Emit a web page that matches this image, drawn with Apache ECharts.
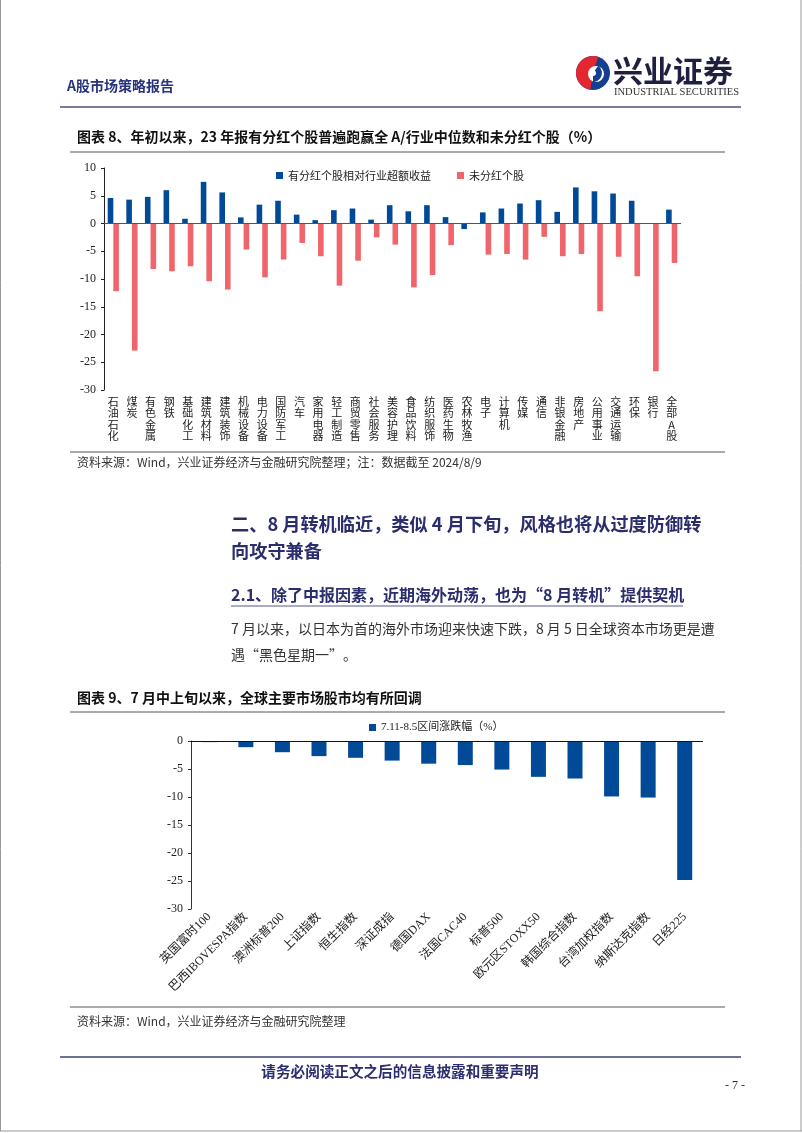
<!DOCTYPE html>
<html><head><meta charset="utf-8">
<script src="https://cdn.jsdelivr.net/npm/echarts@6/dist/echarts.min.js"></script>
<style>html,body{margin:0;padding:0;background:#fff}#c{width:802px;height:1133px}</style>
</head><body><div id="c"></div>
<script>
// ---- Data ----
var cats1 = ['石油石化','煤炭','有色金属','钢铁','基础化工','建筑材料','建筑装饰','机械设备','电力设备','国防军工','汽车','家用电器','轻工制造','商贸零售','社会服务','美容护理','食品饮料','纺织服饰','医药生物','农林牧渔','电子','计算机','传媒','通信','非银金融','房地产','公用事业','交通运输','环保','银行','全部A股'];
var divExcess = [4.6,4.3,4.8,6.0,0.85,7.5,5.6,1.1,3.4,4.1,1.6,0.6,2.4,2.7,0.7,3.3,2.2,3.3,1.15,-1.0,2.0,2.7,3.6,4.2,2.1,6.5,5.8,5.4,4.1,0,2.5];
var nonDiv = [-12.2,-22.9,-8.2,-8.6,-7.7,-10.4,-11.9,-4.7,-9.7,-6.5,-3.5,-5.9,-11.2,-6.7,-2.5,-3.8,-11.5,-9.3,-3.9,0.1,-5.6,-5.5,-6.5,-2.4,-5.9,-5.5,-15.8,-6.0,-9.5,-26.6,-7.1];
var seriesNames1 = ['有分红个股相对行业超额收益','未分红个股'];
var yTicks1 = {min:-30, max:10, interval:5};

var cats2 = ['英国富时100','巴西IBOVESPA指数','澳洲标普200','上证指数','恒生指数','深证成指','德国DAX','法国CAC40','标普500','欧元区STOXX50','韩国综合指数','台湾加权指数','纳斯达克指数','日经225'];
var vals2 = [-0.2,-1.1,-2.0,-2.7,-3.0,-3.5,-4.05,-4.3,-5.1,-6.4,-6.7,-9.9,-10.1,-24.8];
var seriesName2 = '7.11-8.5区间涨跌幅（%）';
var yTicks2 = {min:-30, max:0, interval:5};

// ---- Style ----
var SERIF = '"Liberation Serif","Noto Sans CJK SC",serif';
var CJK = '"Noto Sans CJK SC","Liberation Serif",sans-serif';
var BLUE = '#004a97', RED = '#f0646b', NAVY = '#2b2e6c';

function txt(x, y, s, size, opts) {
  opts = opts || {};
  return {type:'text', x:x, y:y, silent:true, style:{
    text:s, fontSize:size, fontFamily:opts.font || CJK, fontWeight:opts.bold?'bold':'normal',
    fill:opts.color || '#222', textAlign:opts.align || 'left', textVerticalAlign:'middle'}};
}
function hline(x1, x2, y, color, w) {
  return {type:'line', silent:true, shape:{x1:x1,y1:y,x2:x2,y2:y}, style:{stroke:color, lineWidth:w}};
}

var graphics = [
  // page frame
  {type:'line', silent:true, shape:{x1:0.5,y1:0,x2:0.5,y2:1131}, style:{stroke:'#999',lineWidth:1}},
  {type:'line', silent:true, shape:{x1:801,y1:0,x2:801,y2:1131}, style:{stroke:'#999',lineWidth:1}},
  hline(0, 802, 1131, '#999', 1),
  // header
  txt(67, 86, 'A股市场策略报告', 14, {bold:true, color:'#27337c'}),
  hline(60, 741, 107, '#4b4f7c', 1.5),
  // logo
  {type:'circle', silent:true, shape:{cx:593, cy:73, r:17}, style:{fill:'#123f8f'}},
  {type:'sector', silent:true, shape:{cx:593, cy:73, r:17, r0:0, startAngle:Math.PI*0.55, endAngle:Math.PI*1.6}, style:{fill:'#e3262f'}},
  {type:'circle', silent:true, shape:{cx:596, cy:74, r:8}, style:{fill:'#fff'}},
  {type:'sector', silent:true, shape:{cx:593, cy:73, r:9, r0:3, startAngle:-Math.PI*0.3, endAngle:Math.PI*0.5}, style:{fill:'#123f8f'}},
  txt(613, 71, '兴业证券', 30, {bold:true, color:'#1f1f40', font:'"Noto Sans CJK SC",serif'}),
  txt(614, 92, 'INDUSTRIAL SECURITIES', 10.5, {color:'#333', font:SERIF}),
  // chart 1 title & frame
  txt(77, 137, '图表 8、年初以来，23 年报有分红个股普遍跑赢全 A/行业中位数和未分红个股（%）', 14, {bold:true, color:'#111'}),
  hline(70, 725, 152, '#aaa', 2),
  hline(70, 725, 452, '#aaa', 2),
  txt(77, 462, '资料来源：Wind，兴业证券经济与金融研究院整理；注：数据截至 2024/8/9', 12, {color:'#333'}),
  // section text
  txt(231, 524, '二、8 月转机临近，类似 4 月下旬，风格也将从过度防御转', 18.2, {bold:true, color:NAVY}),
  txt(231, 551, '向攻守兼备', 18.2, {bold:true, color:NAVY}),
  txt(231, 595, '2.1、除了中报因素，近期海外动荡，也为“8 月转机”提供契机', 16, {bold:true, color:NAVY}),
  hline(231, 683, 606, '#555a88', 1.2),
  txt(231, 629, '7 月以来，以日本为首的海外市场迎来快速下跌，8 月 5 日全球资本市场更是遭', 14, {color:'#333'}),
  txt(231, 655, '遇“黑色星期一”。', 14, {color:'#333'}),
  // chart 2 title & frame
  txt(77, 698, '图表 9、7 月中上旬以来，全球主要市场股市均有所回调', 14, {bold:true, color:'#111'}),
  hline(70, 725, 712, '#aaa', 2),
  hline(70, 725, 1007, '#aaa', 2),
  txt(77, 1021, '资料来源：Wind，兴业证券经济与金融研究院整理', 12, {color:'#333'}),
  // footer
  hline(60, 741, 1057, '#3d4178', 1.5),
  txt(400, 1071, '请务必阅读正文之后的信息披露和重要声明', 14.6, {bold:true, color:'#2b2f70', align:'center'}),
  txt(735, 1086, '- 7 -', 12, {color:'#333', font:SERIF, align:'center'})
];

var chart = echarts.init(document.getElementById('c'));
chart.setOption({
  animation:false,
  backgroundColor:'#fff',
  textStyle:{fontFamily:SERIF},
  graphic:graphics,
  legend:[
    {data:[seriesNames1[0], seriesNames1[1]], left:271, top:165, itemWidth:7, itemHeight:7, itemGap:26,
     textStyle:{fontSize:11, fontFamily:CJK, color:'#222'}, icon:'rect'},
    {data:[seriesName2], left:364, top:717, itemWidth:7, itemHeight:7,
     textStyle:{fontSize:11, fontFamily:SERIF, color:'#222'}, icon:'rect'}
  ],
  grid:[
    {left:104, top:168, width:577, height:222},
    {left:191, top:741, width:512, height:168}
  ],
  xAxis:[
    {type:'category', gridIndex:0, data:cats1, position:'bottom',
     axisLine:{show:false, onZero:false}, axisTick:{show:false},
     axisLabel:{interval:0, margin:6, fontSize:11, lineHeight:11.5, fontFamily:CJK, color:'#222',
       formatter:function(v){return v.split('').join('\n');}}},
    {type:'category', gridIndex:1, data:cats2, position:'bottom',
     axisLine:{show:false, onZero:false}, axisTick:{show:false},
     axisLabel:{interval:0, rotate:45, margin:6, fontSize:12, fontFamily:SERIF, color:'#222'}}
  ],
  yAxis:[
    {type:'value', gridIndex:0, min:yTicks1.min, max:yTicks1.max, interval:yTicks1.interval,
     axisLine:{show:true, lineStyle:{color:'#222'}}, axisTick:{show:true, length:3, lineStyle:{color:'#222'}},
     splitLine:{show:false}, axisLabel:{fontSize:12, fontFamily:SERIF, color:'#222', margin:8}},
    {type:'value', gridIndex:1, min:yTicks2.min, max:yTicks2.max, interval:yTicks2.interval,
     axisLine:{show:true, lineStyle:{color:'#333'}}, axisTick:{show:true, length:3, lineStyle:{color:'#333'}},
     splitLine:{show:false}, axisLabel:{fontSize:12, fontFamily:SERIF, color:'#222', margin:8}}
  ],
  series:[
    {name:seriesNames1[0], type:'bar', xAxisIndex:0, yAxisIndex:0, data:divExcess,
     barWidth:5.6, barGap:'0%', itemStyle:{color:BLUE},
     markLine:{silent:true, symbol:['none','none'], label:{show:false},
       lineStyle:{color:'#555', width:1, type:'solid'}, data:[{yAxis:0}]}},
    {name:seriesNames1[1], type:'bar', xAxisIndex:0, yAxisIndex:0, data:nonDiv,
     barWidth:5.6, barGap:'0%', itemStyle:{color:RED}},
    {name:seriesName2, type:'bar', xAxisIndex:1, yAxisIndex:1, data:vals2,
     barWidth:15, itemStyle:{color:BLUE},
     markLine:{silent:true, symbol:['none','none'], label:{show:false},
       lineStyle:{color:'#111', width:1, type:'solid'}, data:[{yAxis:0}]}}
  ]
});
</script></body></html>
